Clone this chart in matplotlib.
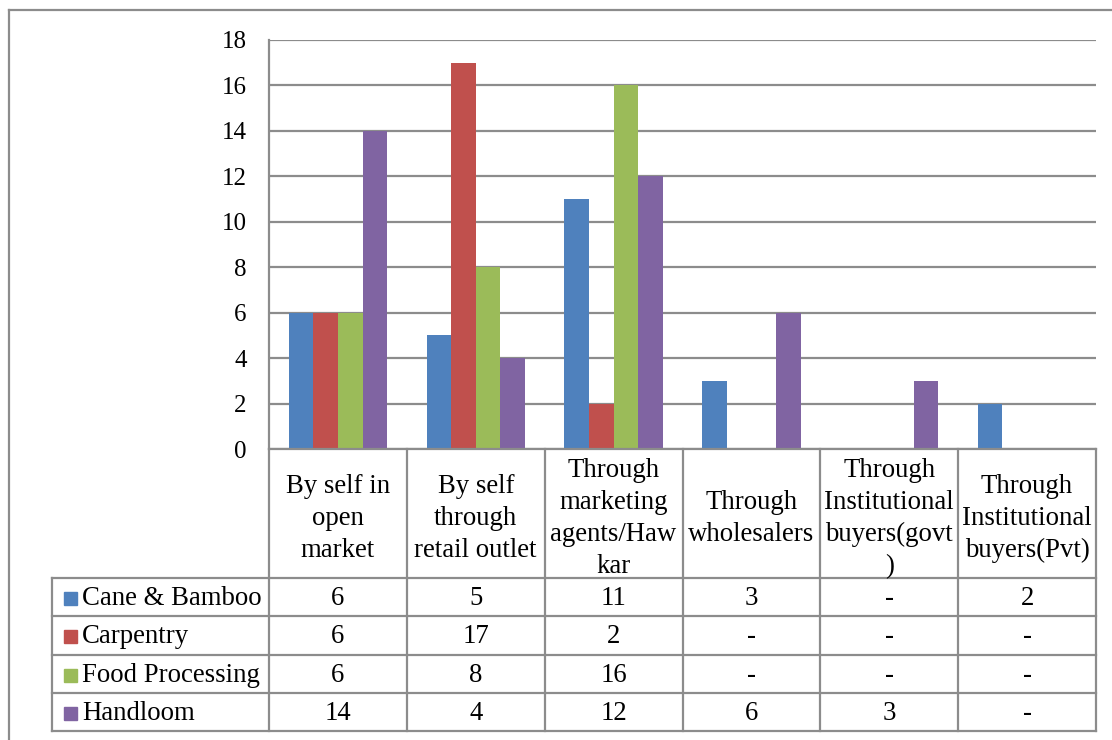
import numpy as np
import matplotlib.pyplot as plt
from matplotlib.patches import Rectangle

plt.rcParams['font.family'] = ['Liberation Serif', 'DejaVu Serif']

# Данные
categories = ['By self in\nopen\nmarket', 'By self\nthrough\nretail outlet',
              'Through\nmarketing\nagents/Haw\nkar', 'Through\nwholesalers',
              'Through\nInstitutional\nbuyers(govt\n)', 'Through\nInstitutional\nbuyers(Pvt)']
series = ['Cane & Bamboo', 'Carpentry', 'Food Processing', 'Handloom']
cane = [6, 5, 11, 3, np.nan, 2]
carpentry = [6, 17, 2, np.nan, np.nan, np.nan]
food = [6, 8, 16, np.nan, np.nan, np.nan]
handloom = [14, 4, 12, 6, 3, np.nan]
yticks = [0, 2, 4, 6, 8, 10, 12, 14, 16, 18]

values = [cane, carpentry, food, handloom]
colors = ['#4F81BD', '#C0504D', '#9BBB59', '#8064A2']
grid_c = '#8C8C8C'
fs_tick = 18
fs = 19.3

W, H = 1112, 740
fig = plt.figure(figsize=(W / 100, H / 100), dpi=100)

# Основная область графика (пиксели)
px_l, px_r, px_t, px_b = 269, 1096, 40, 449
ax = fig.add_axes([px_l / W, (H - px_b) / H, (px_r - px_l) / W, (px_b - px_t) / H])
n = len(categories)
bw = 0.1785
x = np.arange(n) + 0.5
for i, (vals, c) in enumerate(zip(values, colors)):
    h = np.nan_to_num(np.array(vals, dtype=float))
    ax.bar(x + (i - 1.5) * bw, h, width=bw, color=c, zorder=3)
ax.set_xlim(0, n)
ax.set_ylim(0, 18)
ax.set_yticks(yticks)
ax.set_xticks([])
ax.yaxis.grid(True, color=grid_c, linewidth=1.6, zorder=0)
for s in ['top', 'right', 'bottom']:
    ax.spines[s].set_visible(False)
ax.spines['left'].set_color(grid_c)
ax.spines['left'].set_linewidth(1.6)
ax.tick_params(axis='y', length=0, pad=16, labelsize=fs_tick)

# Таблица данных
tb_l, tb_b = 52, 731
col_w = (px_r - px_l) / n
leg_w = (px_l - tb_l) / col_w
tab = fig.add_axes([tb_l / W, (H - tb_b) / H, (px_r - tb_l) / W, (tb_b - px_b) / H])
tab.set_xlim(-leg_w, n)
tab.set_ylim(0, tb_b - px_b)
tab.axis('off')
row_h = 38.25
head_top = tb_b - px_b
rows_top = row_h * len(series)
lk = dict(color=grid_c, linewidth=1.6, clip_on=False)
# горизонтальные линии
tab.plot([0, n], [head_top, head_top], **lk)
for r in range(len(series) + 1):
    tab.plot([-leg_w, n], [r * row_h, r * row_h], **lk)
# вертикальные линии
tab.plot([-leg_w, -leg_w], [0, rows_top], **lk)
for c in range(n + 1):
    tab.plot([c, c], [0, head_top], **lk)

for c, cat in enumerate(categories):
    tab.text(c + 0.5, (rows_top + head_top) / 2 - 5, cat, ha='center', va='center',
             fontsize=fs, linespacing=1.36)

key = 13
for r, (name, vals, colr) in enumerate(zip(series, values, colors)):
    yc = rows_top - (r + 0.5) * row_h - 1.5
    tab.add_patch(Rectangle((-leg_w + 12 / col_w, yc - key / 2), key / col_w, key,
                            color=colr, clip_on=False))
    tab.text(-leg_w + 30 / col_w, yc, name, ha='left', va='center', fontsize=fs)
    for c, v in enumerate(vals):
        lab = '-' if np.isnan(v) else str(int(v))
        tab.text(c + 0.5, yc, lab, ha='center', va='center', fontsize=fs)

# внешняя рамка
fig.add_artist(plt.Line2D([9 / W, 9 / W], [0, (H - 10) / H], color=grid_c, linewidth=1.6))
fig.add_artist(plt.Line2D([9 / W, 1], [(H - 10) / H, (H - 10) / H], color=grid_c, linewidth=1.6))

fig.savefig('out.png', dpi=100)
